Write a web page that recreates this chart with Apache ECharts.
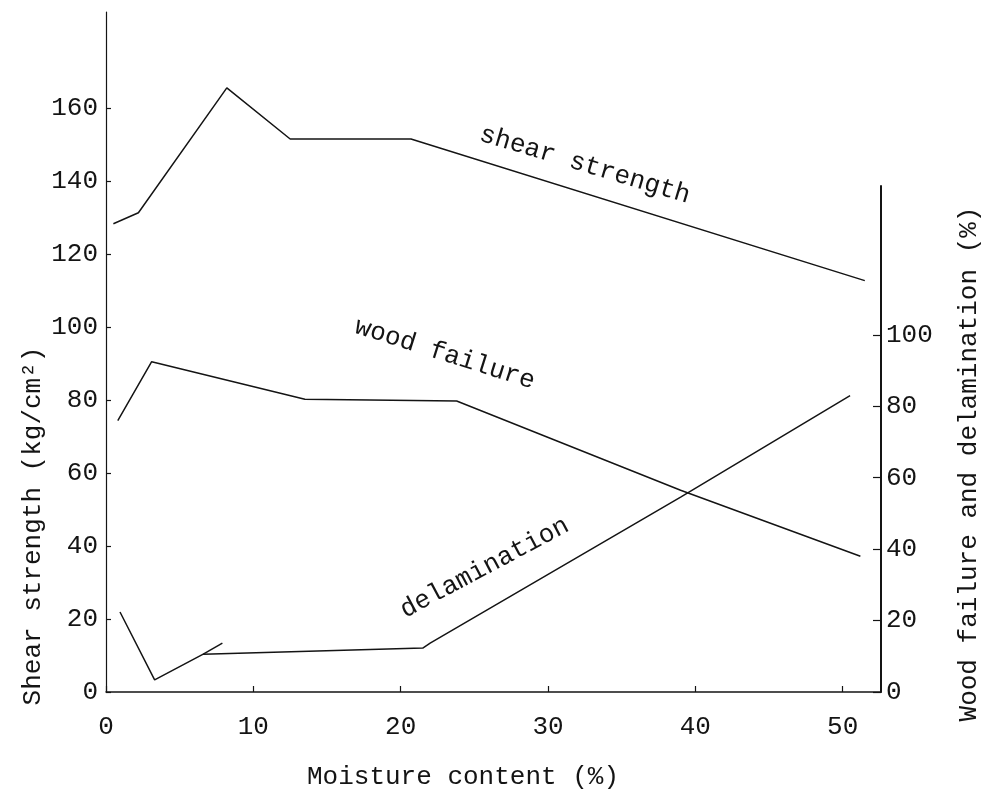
<!DOCTYPE html>
<html>
<head>
<meta charset="utf-8">
<script src="https://cdn.jsdelivr.net/npm/echarts@6/dist/echarts.min.js"></script>
<style>html,body{margin:0;padding:0;background:#fff}#c{width:986px;height:796px}</style>
</head>
<body>
<div id="c"></div>
<script>
// ---- data ----
const xTicks = [0, 10, 20, 30, 40, 50];
const leftTicks = [0, 20, 40, 60, 80, 100, 120, 140, 160];
const rightTicks = [0, 20, 40, 60, 80, 100];

const shearMoisture = [0.5, 2.2, 8.2, 12.5, 20.7, 51.5];
const shearStrength = [128.3, 131.3, 165.5, 151.5, 151.5, 112.7];

const woodMoisture = [0.8, 3.1, 13.5, 23.8, 39.0, 51.2];
const woodFailure = [76, 92.5, 82, 81.5, 56.5, 38];

const delamMoisture = [0.95, 3.3, 6.6, 21.5, 22.0, 39.0, 50.5];
const delamination = [22.4, 3.4, 10.6, 12.3, 13.7, 54.6, 83];
const delamSpurMoisture = [6.6, 7.9];
const delamSpur = [10.6, 13.7];

// curve annotations (position in moisture / left-axis units, angle in degrees, + = counter-clockwise)
const noteTexts = ['shear strength', 'wood failure', 'delamination'];
const noteMoisture = [32.5, 23.0, 25.7];
const noteLeftValue = [144.4, 92.6, 34.0];
const noteAngle = [-16.7, -17.5, 28];

const zip = (a, b) => a.map((v, i) => [v, b[i]]);

const FONT = '"Liberation Mono", "DejaVu Sans Mono", monospace';
const ink = '#141414';
const fs = 26;

const chart = echarts.init(document.getElementById('c'), null, {renderer: 'canvas'});

const lineStyle = {color: ink, width: 1.5};

const option = {
  backgroundColor: '#ffffff',
  animation: false,
  grid: [
    {left: 106, right: 105, top: 12, bottom: 104},
    {left: 106, right: 105, top: 186, bottom: 104}
  ],
  xAxis: [
    {
      gridIndex: 0, type: 'value', min: 0, max: 52.6,
      axisLine: {show: true, onZero: false, lineStyle: {color: ink, width: 1.5}},
      axisTick: {show: true, inside: true, length: 6, customValues: xTicks, lineStyle: {color: ink, width: 1.2}},
      axisLabel: {customValues: xTicks, margin: 22, fontFamily: FONT, fontSize: fs, color: ink},
      splitLine: {show: false}
    },
    {gridIndex: 1, type: 'value', min: 0, max: 52.6, show: false}
  ],
  yAxis: [
    {
      gridIndex: 0, type: 'value', min: 0, max: 186.3, position: 'left',
      axisLine: {show: true, onZero: false, lineStyle: {color: ink, width: 1.2}},
      axisTick: {show: true, inside: true, length: 5, customValues: leftTicks, lineStyle: {color: ink, width: 1.2}},
      axisLabel: {customValues: leftTicks, margin: 8, fontFamily: FONT, fontSize: fs, color: ink},
      splitLine: {show: false}
    },
    {
      gridIndex: 1, type: 'value', min: 0, max: 141.7, position: 'right',
      axisLine: {show: true, onZero: false, lineStyle: {color: ink, width: 2}},
      axisTick: {show: true, inside: true, length: 8, customValues: rightTicks, lineStyle: {color: ink, width: 1.2}},
      axisLabel: {customValues: rightTicks, margin: 5, fontFamily: FONT, fontSize: fs, color: ink},
      splitLine: {show: false}
    }
  ],
  series: [
    {name: 'shear strength', type: 'line', xAxisIndex: 0, yAxisIndex: 0, data: zip(shearMoisture, shearStrength),
     showSymbol: false, lineStyle: lineStyle, silent: true},
    {name: 'wood failure', type: 'line', xAxisIndex: 1, yAxisIndex: 1, data: zip(woodMoisture, woodFailure),
     showSymbol: false, lineStyle: lineStyle, silent: true},
    {name: 'delamination', type: 'line', xAxisIndex: 1, yAxisIndex: 1, data: zip(delamMoisture, delamination),
     showSymbol: false, lineStyle: lineStyle, silent: true},
    {name: 'delamination spur', type: 'line', xAxisIndex: 1, yAxisIndex: 1, data: zip(delamSpurMoisture, delamSpur),
     showSymbol: false, lineStyle: lineStyle, silent: true}
  ]
};
chart.setOption(option);

function txt(text, x, y, rotDeg) {
  return {
    type: 'text', x: x, y: y, rotation: rotDeg * Math.PI / 180, silent: true,
    style: {
      text: text, fill: ink, font: fs + 'px ' + FONT,
      textAlign: 'center', textVerticalAlign: 'middle',
      align: 'center', verticalAlign: 'middle'
    }
  };
}

const graphics = [
  txt('Moisture content (%)', 463, 777, 0),
  txt('Shear strength (kg/cm²)', 33, 526, 90),
  txt('Wood failure and delamination (%)', 969, 464, 90)
];
noteTexts.forEach((t, i) => {
  const p = chart.convertToPixel({xAxisIndex: 0, yAxisIndex: 0}, [noteMoisture[i], noteLeftValue[i]]);
  graphics.push(txt(t, p[0], p[1], noteAngle[i]));
});
chart.setOption({graphic: graphics});
</script>
</body>
</html>
